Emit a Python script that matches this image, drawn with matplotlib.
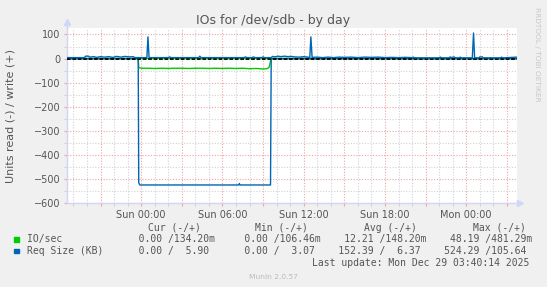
import matplotlib
matplotlib.use("Agg")
import matplotlib.pyplot as plt
from matplotlib.patches import Rectangle
from matplotlib.ticker import FixedLocator, MultipleLocator, FuncFormatter

# --- data (hours relative to Sun 00:00) ---
read_hours = [-5.5, -0.22, -0.18, 0.0, 0.5, 1.0, 1.5, 2.0, 2.5, 3.0, 3.5, 4.0, 4.5, 5.0,
              5.5, 6.0, 6.5, 7.0, 7.5, 8.0, 8.5, 9.0, 9.3, 9.45, 9.55, 9.6, 27.75]
io_read = [0, 0, -37, -40, -40, -41, -40, -41, -40, -40, -41, -40, -40, -41,
           -40, -41, -40, -41, -40, -42, -41, -43, -42, -36, -10, 0, 0]

req_read_hours = [-5.5, -0.22, -0.18, -0.1, 3.0, 7.2, 7.25, 7.3, 9.55, 9.6, 27.75]
req_read = [0, 0, -515, -524, -524, -524, -518, -524, -524, 0, 0]

write_hours = [-5.5, -4.2, -4.1, -3.9, -3.8, -3.5, -3.3, -3.0, -2.7, -2.4, -2.1, -1.8,
               -1.5, -1.2, -0.9, -0.6, -0.45, 0.0, 0.42, 0.5, 0.58, 2.0, 2.1, 2.2,
               4.25, 4.33, 4.42, 7.6, 7.7, 7.8, 8.2, 8.3, 8.4, 8.9, 9.0, 9.1,
               9.6, 9.7, 9.9, 10.1, 10.3, 10.6, 10.8, 11.1, 11.3, 11.7, 12.0, 12.45,
               12.53, 12.62, 13.0, 13.4, 13.8, 14.2, 14.6, 15.0, 15.5, 16.0, 16.5,
               17.0, 17.5, 18.0, 18.5, 19.0, 19.5, 20.0, 20.1, 20.2, 22.0, 22.1, 22.2,
               22.75, 22.8, 22.9, 23.1, 23.2, 23.5, 23.55, 23.65, 24.45, 24.54, 24.62,
               24.95, 25.0, 25.2, 25.25, 26.55, 26.6, 26.7, 27.75]
req_write = [4, 4, 10, 10, 6, 8, 5, 8, 6, 8, 5, 9,
             6, 9, 7, 8, 4, 4, 4, 90, 4, 4, 7, 4,
             4, 10, 4, 4, 7, 4, 4, 7, 4, 4, 7, 4,
             4, 9, 7, 10, 8, 10, 8, 9, 7, 6, 8, 5,
             90, 5, 6, 4, 6, 4, 6, 5, 6, 4, 6,
             5, 6, 4, 5, 4, 5, 4, 6, 3, 3, 6, 3,
             3, 7, 4, 7, 3, 3, 6, 3, 3, 106, 3,
             3, 7, 7, 3, 3, 6, 3, 6]
io_write_hours = [-5.5, 27.75]
io_write = [0.15, 0.13]

tick_hours = [0, 6, 12, 18, 24]
tick_labels = ["Sun 00:00", "Sun 06:00", "Sun 12:00", "Sun 18:00", "Mon 00:00"]

legend_names = ["IO/sec", "Req Size (KB)"]
legend_cur = ["0.00 /134.20m", "0.00 /  5.90"]
legend_min = ["0.00 /106.46m", "0.00 /  3.07"]
legend_avg = [" 12.21 /148.20m", "152.39 /  6.37"]
legend_max = [" 48.19 /481.29m", "524.29 /105.64"]
legend_headers = ["Cur (-/+)", "Min (-/+)", "Avg (-/+)", "Max (-/+)"]

GREEN = "#00CC00"
BLUE = "#0066B3"
FONT = "#555555"
AXIS = "#CFD6F8"

W, H = 547, 287


def fx(x):
    return x / W


def fy(y):
    return 1 - y / H


fig = plt.figure(figsize=(W / 100, H / 100), dpi=100, facecolor="#F0F0F0")
ax = fig.add_axes([fx(66.7), fy(203.3), (517 - 66.7) / W, (203.3 - 27.7) / H])
ax.set_facecolor("white")

ax.plot(read_hours, io_read, color=GREEN, lw=1.0, zorder=3)
ax.plot(io_write_hours, io_write, color=GREEN, lw=1.0, zorder=3)
ax.plot(req_read_hours, req_read, color=BLUE, lw=1.0, zorder=4)
ax.axhline(0, color="black", lw=1.3, linestyle=(0, (2, 1)), zorder=5)
ax.plot(write_hours, req_write, color=BLUE, lw=1.0, zorder=6)

ax.set_xlim(-5.5, 27.75)
ax.set_ylim(-600, 128)

ax.xaxis.set_major_locator(FixedLocator(list(range(-3, 28, 3))))
ax.xaxis.set_minor_locator(MultipleLocator(1))
labels = dict(zip(tick_hours, tick_labels))
ax.xaxis.set_major_formatter(FuncFormatter(lambda v, p: labels.get(int(round(v)), "")))
ax.yaxis.set_major_locator(MultipleLocator(100))
ax.yaxis.set_minor_locator(MultipleLocator(50))

ax.grid(which="major", color="#EFA3A3", lw=0.8, linestyle=(0, (1, 1.5)))
ax.grid(which="minor", color="#D2D2D2", lw=0.8, linestyle=(0, (1, 1.5)))
ax.set_axisbelow(True)

ax.tick_params(which="major", length=2.2, width=0.8, color="#EFA3A3",
               labelsize=7, labelcolor=FONT, pad=2.5)
ax.tick_params(which="minor", length=2.2, width=0.8, color="#D2D2D2")

for s in ["top", "right"]:
    ax.spines[s].set_visible(False)
for s in ["left", "bottom"]:
    ax.spines[s].set_color(AXIS)
    ax.spines[s].set_linewidth(1.0)

# axis arrows
ax.plot([0, 0], [1, 1.03], color=AXIS, lw=1.0, transform=ax.transAxes, clip_on=False)
ax.plot([0], [1.035], marker="^", ms=4, color=AXIS, transform=ax.transAxes, clip_on=False)
ax.plot([1.0, 1.005], [0, 0], color=AXIS, lw=1.0, transform=ax.transAxes, clip_on=False)
ax.plot([1.007], [0], marker=">", ms=4, color=AXIS, transform=ax.transAxes, clip_on=False)

fig.text(fx(273.5), fy(20.5), "IOs for /dev/sdb - by day", ha="center", va="center",
         fontsize=9, color=FONT)
fig.text(fx(11), fy(116), "Units read (-) / write (+)", rotation=90, ha="center",
         va="center", fontsize=8, color=FONT)
fig.text(fx(537.5), fy(54), "RRDTOOL / TOBI OETIKER", rotation=270, ha="center",
         va="center", fontsize=5.3, color="#C8C8C8")

# legend
mono = "DejaVu Sans Mono"
for h, x in zip(legend_headers, [147.7, 255, 364.3, 473.3]):
    fig.text(fx(x), fy(227.7), h, ha="left", va="center", fontsize=7, family=mono, color=FONT)

row_y = [239.3, 251.0]
for i, (color, y) in enumerate(zip([GREEN, BLUE], row_y)):
    fig.add_artist(Rectangle((fx(14), fy(y + 2.4)), 4.7 / W, 4.7 / H,
                             transform=fig.transFigure, color=color))
    line = (legend_names[i].ljust(19) + legend_cur[i].ljust(18)
            + legend_min[i].ljust(16) + legend_avg[i].ljust(18) + legend_max[i])
    fig.text(fx(26.7), fy(y), line, ha="left", va="center", fontsize=7,
             family=mono, color=FONT)

fig.text(fx(311.7), fy(263.3), "Last update: Mon Dec 29 03:40:14 2025", ha="left",
         va="center", fontsize=7, family=mono, color=FONT)
fig.text(fx(273), fy(277), "Munin 2.0.57", ha="center", va="center",
         fontsize=5.4, color="#BBBBBB")

fig.savefig("out.png", dpi=100, facecolor=fig.get_facecolor())
